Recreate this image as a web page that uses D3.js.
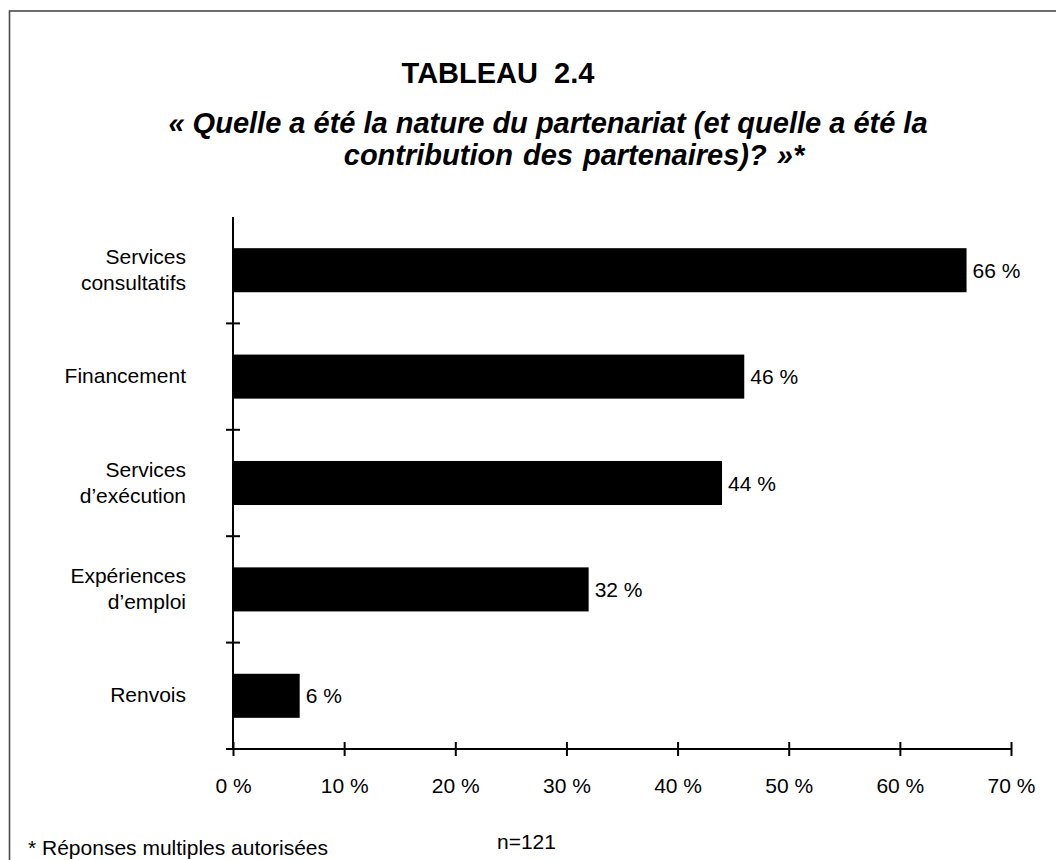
<!DOCTYPE html>
<html lang="fr">
<head>
    <meta charset="UTF-8">
    <title>Tableau 2.4</title>
    <script src="https://cdn.jsdelivr.net/npm/d3@7"></script>
    <style>
        body { margin: 0; background: #fff; }
        svg { display: block; font-family: "Liberation Sans", Arial, sans-serif; }
    </style>
</head>
<body>
<script>

    // DATA
    const categories = [["Services", "consultatifs"], ["Financement"], ["Services", "d\u2019exécution"], ["Expériences", "d\u2019emploi"], ["Renvois"]]
    const values = [66, 46, 44, 32, 6]
    const tick_values = [0, 10, 20, 30, 40, 50, 60, 70]
    const title = "TABLEAU\u00a0\u00a02.4"
    const subtitle = ["« Quelle a été la nature du partenariat (et quelle a été la", "contribution des partenaires)? »*"]
    const subtitle_x = [548, 574]

    const keys = categories.map(c => c.join(" "))

    let svg = d3.select("body").append("svg").attr("width", 1056).attr("height", 860)

    // FRAME
    svg.append("rect").attr("x", 9.5).attr("y", 11).attr("width", 1100).attr("height", 900)
        .style("fill", "none").style("stroke", "#4a4a4a").style("stroke-width", "1.6px")

    // SCALES
    let x_scale = d3.scaleLinear().domain([0, 70]).range([233, 1011])
    let y_scale = d3.scaleBand().domain(keys).range([217, 749]).paddingInner(0.586).paddingOuter(0.293)

    // TITLES
    svg.append("text").attr("x", 498).attr("y", 83).attr("text-anchor", "middle")
        .style("font-size", "29px").style("font-weight", "bold").text(title)
    svg.selectAll(".sub").data(subtitle).enter().append("text")
        .attr("x", (d, i) => subtitle_x[i]).attr("y", (d, i) => 133 + i * 32).attr("text-anchor", "middle")
        .style("font-size", "29px").style("font-weight", "bold").style("font-style", "italic")
        .style("word-spacing", (d, i) => i == 1 ? "2px" : "0px").text(d => d)

    // BARS
    svg.selectAll(".bar").data(values).enter().append("rect")
        .attr("x", x_scale(0)).attr("y", (d, i) => y_scale(keys[i]))
        .attr("width", d => x_scale(d) - x_scale(0)).attr("height", y_scale.bandwidth())
        .style("fill", "black")

    svg.selectAll(".val").data(values).enter().append("text")
        .attr("x", d => x_scale(d) + 6).attr("y", (d, i) => y_scale(keys[i]) + y_scale.bandwidth() / 2 + 7.5)
        .style("font-size", "21px").text(d => d + " %")

    // X AXIS
    const x_axis = d3.axisBottom(x_scale).tickValues(tick_values).tickSize(7).tickPadding(22).tickFormat(d => d + " %")
    let gx = svg.append("g").attr("transform", "translate(0," + y_scale.range()[1] + ")").call(x_axis)
    gx.select(".domain").attr("d", "M" + (x_scale(0) - 7) + ",0H" + x_scale(70))
    gx.selectAll(".tick line").attr("y1", -7)
    gx.selectAll("line, path").style("stroke", "black").style("stroke-width", "2px")
    gx.selectAll("text").style("font-size", "21px").style("font-family", "Liberation Sans, Arial, sans-serif").attr("fill", "black")

    // Y AXIS
    let y0 = y_scale.range()[0], y1 = y_scale.range()[1]
    svg.append("line").attr("x1", x_scale(0)).attr("x2", x_scale(0)).attr("y1", y0).attr("y2", y1)
        .style("stroke", "black").style("stroke-width", "2px")
    let gap = (y_scale.step() - y_scale.bandwidth()) / 2
    svg.selectAll(".ytick").data(keys.slice(1)).enter().append("line")
        .attr("x1", x_scale(0) - 7).attr("x2", x_scale(0) + 7)
        .attr("y1", d => y_scale(d) - gap).attr("y2", d => y_scale(d) - gap)
        .style("stroke", "black").style("stroke-width", "2px")

    // CATEGORY LABELS
    let labels = svg.selectAll(".cat").data(categories).enter().append("text")
        .attr("text-anchor", "end").style("font-size", "21px")
        .attr("y", (d, i) => y_scale(keys[i]) + y_scale.bandwidth() / 2 - 1)
    labels.selectAll("tspan").data(d => d.map((t, j) => ({t: t, off: (j - (d.length - 1) / 2) * 26}))).enter().append("tspan")
        .attr("x", 186).attr("dy", (d, j) => j == 0 ? d.off + 7.5 : 26).text(d => d.t)

    // NOTES
    svg.append("text").attr("x", 28).attr("y", 855).style("font-size", "21px").text("* Réponses multiples autorisées")
    svg.append("text").attr("x", 497).attr("y", 849).style("font-size", "21px").text("n=121")

</script>
</body>
</html>
